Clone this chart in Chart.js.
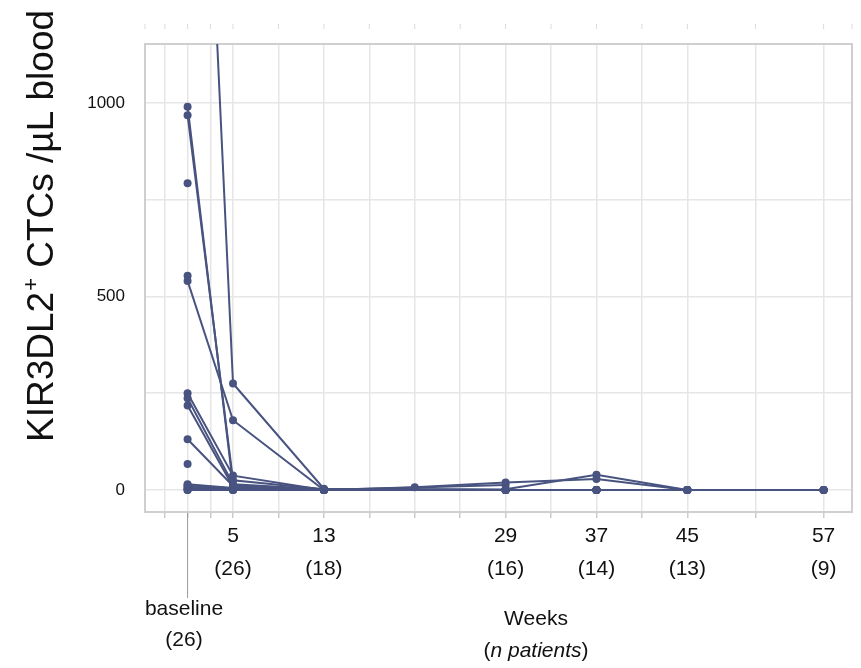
<!DOCTYPE html>
<html>
<head>
<meta charset="utf-8">
<script src="https://cdn.jsdelivr.net/npm/chart.js@4/dist/chart.umd.min.js"></script>
<style>
  html, body { margin: 0; padding: 0; background: #fff; }
  #wrap { width: 861px; height: 668px; position: relative; }
</style>
</head>
<body>
<div id="wrap"><canvas id="chart"></canvas></div>
<script>
// sampling weeks (baseline drawn at week 1)
const weeks = [1, 5, 13, 21, 29, 37, 45, 57];
const gridWeeks = [-1, 1, 3, 5, 9, 13, 17, 21, 25, 29, 33, 37, 41, 45, 51, 57];
const tickWeeks = [5, 13, 29, 37, 45, 57];
const tickCounts = ['(26)', '(18)', '(16)', '(14)', '(13)', '(9)'];
const yGrid = [0, 250, 500, 750, 1000];
const yLabels = [0, 500, 1000];

// KIR3DL2+ CTCs / uL per patient, one value per entry of weeks (null = no sample)
const pt01 = [2800, 275, 3, null, 0, 0, 0, 0];
const pt02 = [990, 12, 0, null, 0, 0, 0, 0];
const pt03 = [968, 25, 2, null, 0, 0, 0, null];
const pt04 = [792, null, null, null, null, null, null, null];
const pt05 = [553, null, null, null, null, null, null, null];
const pt06 = [540, 180, 0, null, 0, 0, 0, null];
const pt07 = [250, 37, 0, null, 0, 0, null, null];
const pt08 = [237, 15, 2, null, 0, 0, 0, 0];
const pt09 = [218, 8, 0, null, 0, null, null, null];
const pt10 = [131, 10, 0, null, 0, 0, 0, 0];
const pt11 = [67, null, null, null, null, null, null, null];
const pt12 = [15, 5, 0, 7, 19, 28, 0, 0];
const pt13 = [12, 4, 0, null, 2, 39, 0, 0];
const pt14 = [8, 2, 0, null, 13, null, null, null];
const pt15 = [5, 0, 0, null, 0, 0, 0, 0];
const pt16 = [0, 0, 0, null, 0, 0, 0, null];
const pt17 = [2, 0, null, null, null, null, null, null];
const pt18 = [0, 1, null, null, null, null, null, null];

const patients = [pt01, pt02, pt03, pt04, pt05, pt06, pt07, pt08, pt09,
                  pt10, pt11, pt12, pt13, pt14, pt15, pt16, pt17, pt18];

const lineColor = '#485380';
const FONT = "'Liberation Sans', Arial, sans-serif";

const datasets = patients.map((vals, i) => ({
    label: 'pt' + (i + 1),
    data: weeks.map((w, j) => ({ x: w, y: vals[j] })),
    borderColor: lineColor,
    backgroundColor: lineColor,
    borderWidth: 2,
    pointRadius: 4,
    pointBorderWidth: 0,
    spanGaps: true,
    tension: 0
}));

// frame, faint top ticks, axis titles and the baseline label
const decor = {
    id: 'decor',
    beforeDatasetsDraw(chart) {
        const { ctx, chartArea: a } = chart;
        ctx.save();
        ctx.strokeStyle = '#cfcfcf';
        ctx.lineWidth = 2;
        ctx.strokeRect(a.left, a.top, a.right - a.left, a.bottom - a.top);
        ctx.restore();
    },
    afterDraw(chart) {
        const { ctx, chartArea: a, scales } = chart;
        const xs = scales.x;
        ctx.save();

        // faint ticks above the panel
        ctx.strokeStyle = '#dadada';
        ctx.lineWidth = 1;
        [a.left, a.right].concat(gridWeeks.map(w => xs.getPixelForValue(w))).forEach(px => {
            ctx.beginPath();
            ctx.moveTo(px, 24);
            ctx.lineTo(px, 29);
            ctx.stroke();
        });

        // baseline marker below axis
        const bx = xs.getPixelForValue(1);
        ctx.strokeStyle = '#9a9a9a';
        ctx.beginPath();
        ctx.moveTo(bx, a.bottom + 1);
        ctx.lineTo(bx, 598);
        ctx.stroke();

        ctx.fillStyle = '#111';
        ctx.font = '21px ' + FONT;
        ctx.textAlign = 'center';
        ctx.textBaseline = 'middle';
        ctx.fillText('baseline', 184, 609);
        ctx.fillText('(26)', 184, 640);

        // x title
        ctx.fillText('Weeks', 536, 619);
        const italic = 'italic 21px ' + FONT;
        const normal = '21px ' + FONT;
        ctx.font = normal;
        const wOpen = ctx.measureText('(').width;
        const wClose = ctx.measureText(')').width;
        ctx.font = italic;
        const wMid = ctx.measureText('n patients').width;
        let sx = 536 - (wOpen + wMid + wClose) / 2;
        ctx.textAlign = 'left';
        ctx.font = normal;
        ctx.fillText('(', sx, 651);
        ctx.font = italic;
        ctx.fillText('n patients', sx + wOpen, 651);
        ctx.font = normal;
        ctx.fillText(')', sx + wOpen + wMid, 651);

        // y title, rotated
        ctx.translate(52.5, 442);
        ctx.rotate(-Math.PI / 2);
        ctx.textBaseline = 'alphabetic';
        ctx.textAlign = 'left';
        ctx.font = '37px ' + FONT;
        const part1 = 'KIR3DL2';
        ctx.fillText(part1, 0, 0);
        let off = ctx.measureText(part1).width;
        ctx.font = '22px ' + FONT;
        ctx.fillText('+', off + 1, -15);
        off += ctx.measureText('+').width + 1;
        ctx.font = '37px ' + FONT;
        ctx.fillText(' CTCs /\u00b5L blood', off, 0);
        ctx.restore();
    }
};

new Chart(document.getElementById('chart'), {
    type: 'line',
    data: { datasets: datasets },
    options: {
        responsive: true,
        maintainAspectRatio: false,
        animation: false,
        layout: { padding: { top: 44, right: 9, left: 0, bottom: 0 } },
        plugins: {
            legend: { display: false },
            tooltip: { enabled: false }
        },
        scales: {
            x: {
                type: 'linear',
                min: -2.75,
                max: 59.5,
                afterBuildTicks: s => { s.ticks = gridWeeks.map(v => ({ value: v })); },
                afterFit: s => { s.height = 156; },
                border: { display: false },
                grid: { color: '#e6e6e6', lineWidth: 1.5, tickLength: 6, tickColor: '#cccccc' },
                ticks: {
                    autoSkip: false,
                    maxRotation: 0,
                    padding: 2,
                    color: '#111',
                    font: { family: FONT, size: 21, lineHeight: 1.55 },
                    callback: v => {
                        const i = tickWeeks.indexOf(v);
                        return i < 0 ? '' : [String(v), tickCounts[i]];
                    }
                }
            },
            y: {
                type: 'linear',
                min: -57,
                max: 1152,
                afterBuildTicks: s => { s.ticks = yGrid.map(v => ({ value: v })); },
                afterFit: s => { s.width = 145; },
                border: { display: false },
                grid: { color: '#e6e6e6', lineWidth: 1.5, drawTicks: false },
                ticks: {
                    padding: 20,
                    color: '#111',
                    font: { family: FONT, size: 17 },
                    callback: v => yLabels.includes(v) ? String(v) : ''
                }
            }
        }
    },
    plugins: [decor]
});
</script>
</body>
</html>
